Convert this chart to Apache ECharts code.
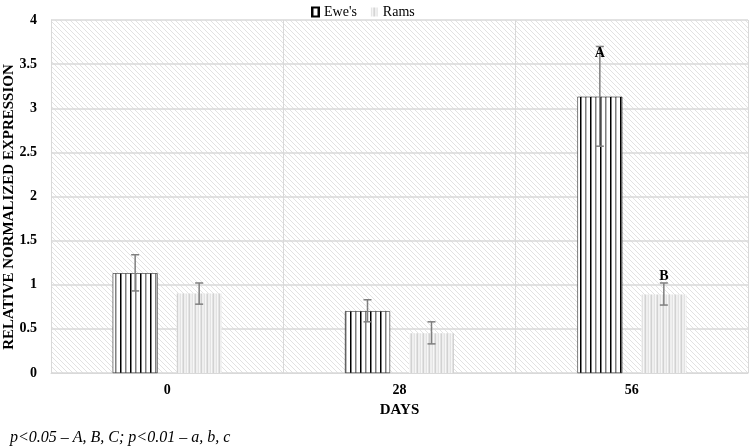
<!DOCTYPE html>
<html>
<head>
<meta charset="utf-8">
<script src="https://cdn.jsdelivr.net/npm/echarts@6/dist/echarts.min.js"></script>
<style>html,body{margin:0;padding:0;background:#fff}#c{width:751px;height:448px}</style>
</head>
<body>
<div id="c"></div>
<script>
const categories = ['0', '28', '56'];
const eweValues = [1.13, 0.70, 3.13];
const eweErrLow = [0.93, 0.58, 2.57];
const eweErrHigh = [1.34, 0.83, 3.70];
const ramValues = [0.90, 0.45, 0.89];
const ramErrLow = [0.78, 0.33, 0.77];
const ramErrHigh = [1.02, 0.58, 1.02];
const eweLabels = ['', '', 'A'];
const ramLabels = ['', '', 'B'];
const yTicks = [0, 0.5, 1, 1.5, 2, 2.5, 3, 3.5, 4];

function makePattern(w, h, draw) {
  const c = document.createElement('canvas');
  c.width = w; c.height = h;
  const ctx = c.getContext('2d');
  draw(ctx, w, h);
  return { image: c, repeat: 'repeat' };
}
const bgPattern = makePattern(5, 5, (ctx, w, h) => {
  ctx.fillStyle = '#ffffff'; ctx.fillRect(0, 0, w, h);
  ctx.strokeStyle = '#e2e2e2'; ctx.lineWidth = 1;
  ctx.beginPath();
  ctx.moveTo(-1, -1); ctx.lineTo(w + 1, h + 1);
  ctx.moveTo(-1, h - 1); ctx.lineTo(1, h + 1);
  ctx.moveTo(w - 1, -1); ctx.lineTo(w + 1, 1);
  ctx.stroke();
});
const ewePattern = makePattern(10, 10, (ctx, w, h) => {
  ctx.fillStyle = '#ffffff'; ctx.fillRect(0, 0, w, h);
  ctx.fillStyle = '#000000'; ctx.fillRect(0, 0, 1.5, h);
  ctx.fillStyle = '#7f7f7f'; ctx.fillRect(5, 0, 1.5, h);
});
const ramPattern = makePattern(6, 6, (ctx, w, h) => {
  ctx.fillStyle = '#e3e3e3'; ctx.fillRect(0, 0, w, h);
  ctx.fillStyle = '#f7f7f7'; ctx.fillRect(1, 0, 1, h);
  ctx.fillStyle = '#d2d2d2'; ctx.fillRect(3, 0, 1, h);
  ctx.fillStyle = '#fbfbfb'; ctx.fillRect(4.5, 0, 1, h);
});

const FONT = 'Liberation Serif';
const BAR_W = 45, BAR_GAP = 19;
const OFF = (BAR_W + BAR_GAP) / 2;

function errSeries(low, high, offset, labels, labelDy) {
  return {
    type: 'custom',
    silent: true,
    z: 10,
    data: categories.map((c, i) => [i, low[i], high[i]]),
    renderItem: function (params, api) {
      const i = api.value(0);
      const lo = api.coord([i, api.value(1)]);
      const hi = api.coord([i, api.value(2)]);
      const x = lo[0] + offset;
      const cap = 4;
      const st = { stroke: '#7f7f7f', lineWidth: 1.5 };
      const children = [
        { type: 'line', shape: { x1: x, y1: lo[1], x2: x, y2: hi[1] }, style: st },
        { type: 'line', shape: { x1: x - cap, y1: lo[1], x2: x + cap, y2: lo[1] }, style: st },
        { type: 'line', shape: { x1: x - cap, y1: hi[1], x2: x + cap, y2: hi[1] }, style: st }
      ];
      const lab = labels[i];
      if (lab) {
        children.push({
          type: 'text',
          style: {
            x: x, y: hi[1] + labelDy, text: lab, align: 'center', verticalAlign: 'middle',
            font: 'bold 14px "' + FONT + '"', fill: '#000'
          }
        });
      }
      return { type: 'group', children: children };
    }
  };
}

const chart = echarts.init(document.getElementById('c'), null, { renderer: 'canvas' });
chart.setOption({
  animation: false,
  backgroundColor: '#ffffff',
  textStyle: { fontFamily: FONT },
  legend: {
    top: 0, left: 306,
    icon: 'rect',
    itemWidth: 7, itemHeight: 9, itemGap: 14,
    textStyle: { fontFamily: FONT, fontSize: 14, color: '#000' },
    data: ["Ewe's", 'Rams']
  },
  grid: {
    left: 51, right: 3, top: 20, bottom: 75,
    outerBoundsMode: 'none', containLabel: false,
    show: true, backgroundColor: bgPattern, borderWidth: 0
  },
  xAxis: {
    type: 'category', data: categories,
    name: 'DAYS', nameLocation: 'middle', nameGap: 30,
    nameTextStyle: { fontFamily: FONT, fontWeight: 'bold', fontSize: 15, color: '#000' },
    axisLine: { lineStyle: { color: '#d9d9d9', width: 1 } },
    axisTick: { show: false },
    axisLabel: { fontFamily: FONT, fontWeight: 'bold', fontSize: 14, color: '#000', margin: 10 },
    splitLine: { show: true, lineStyle: { color: '#d9d9d9' } }
  },
  yAxis: {
    type: 'value', min: 0, max: 4, interval: 0.5,
    axisLine: { show: true, lineStyle: { color: '#d9d9d9' } },
    axisTick: { show: false },
    axisLabel: {
      fontFamily: FONT, fontWeight: 'bold', fontSize: 14, color: '#000', margin: 14,
      formatter: v => yTicks.includes(v) ? String(v) : ''
    },
    splitLine: { lineStyle: { color: '#d9d9d9', width: 1.5 } }
  },
  series: [
    {
      name: "Ewe's", type: 'bar', data: eweValues, barWidth: BAR_W, barGap: (BAR_GAP / BAR_W * 100) + '%',
      itemStyle: { color: ewePattern, borderColor: '#000', borderWidth: 0.5 }
    },
    {
      name: 'Rams', type: 'bar', data: ramValues, barWidth: BAR_W,
      itemStyle: { color: ramPattern }
    },
    errSeries(eweErrLow, eweErrHigh, -OFF, eweLabels, 7),
    errSeries(ramErrLow, ramErrHigh, OFF, ramLabels, -7)
  ],
  graphic: [
    {
      type: 'text', x: 9, y: 207, rotation: Math.PI / 2,
      style: { text: 'RELATIVE NORMALIZED EXPRESSION', font: 'bold 15px "' + FONT + '"', fill: '#000',
        align: 'center', verticalAlign: 'middle' }
    },
    {
      type: 'text', left: 10, top: 430,
      style: { text: 'p<0.05 – A, B, C; p<0.01 – a, b, c', font: 'italic 16px "' + FONT + '"', fill: '#000' }
    }
  ]
});
</script>
</body>
</html>
